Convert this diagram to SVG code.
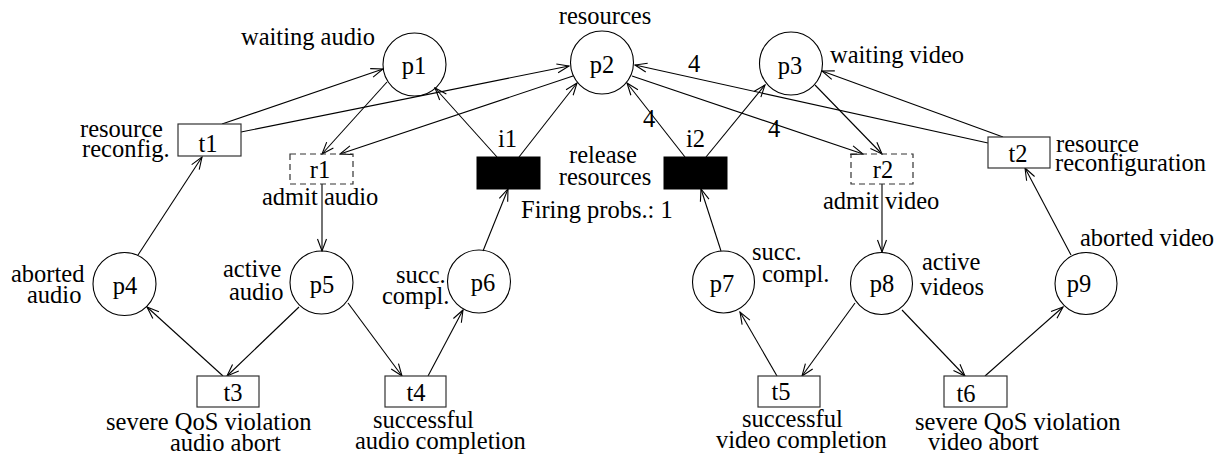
<svg xmlns="http://www.w3.org/2000/svg" width="1218" height="455" viewBox="0 0 1218 455">
<style>
text{font-family:"Liberation Serif","Times New Roman",serif;font-size:24.5px;fill:#000}
.m{text-anchor:middle}
.pl{fill:none;stroke:#000;stroke-width:1.1}
.tr{fill:#fff;stroke:#333;stroke-width:1.2}
.im{fill:#000;stroke:#000}
.ds{fill:none;stroke:#333;stroke-width:1.2;stroke-dasharray:6 4}
.e{stroke:#000;stroke-width:1.1;fill:none;marker-end:url(#a)}
</style>
<defs>
<marker id="a" markerUnits="userSpaceOnUse" markerWidth="14" markerHeight="12" viewBox="-1 -1 14 12" refX="12" refY="4.5" orient="auto">
<path d="M0,0 L12,4.5 L0,9" fill="none" stroke="#000" stroke-width="1.1"/>
</marker>
</defs>
<g id="connectors">
<line class="e" x1="222" y1="124" x2="383" y2="69"/>
<line class="e" x1="241" y1="132" x2="569" y2="66"/>
<line class="e" x1="387" y1="82" x2="322" y2="154"/>
<line class="e" x1="573" y1="76" x2="340" y2="154"/>
<line class="e" x1="497" y1="157" x2="435" y2="88"/>
<line class="e" x1="519" y1="157" x2="577" y2="83"/>
<line class="e" x1="685" y1="157" x2="627" y2="83"/>
<line class="e" x1="706" y1="157" x2="765" y2="85"/>
<line class="e" x1="632" y1="76" x2="863" y2="154"/>
<line class="e" x1="988" y1="143" x2="635" y2="65"/>
<line class="e" x1="1003" y1="137" x2="822" y2="71"/>
<line class="e" x1="815" y1="85" x2="882" y2="154"/>
<line class="e" x1="322" y1="184" x2="322" y2="251"/>
<line class="e" x1="882" y1="184" x2="882" y2="252"/>
<line class="e" x1="138" y1="255" x2="202" y2="157"/>
<line class="e" x1="223" y1="376" x2="147" y2="307"/>
<line class="e" x1="299" y1="307" x2="227" y2="376"/>
<line class="e" x1="348" y1="303" x2="402" y2="376"/>
<line class="e" x1="428" y1="376" x2="463" y2="310"/>
<line class="e" x1="483" y1="251" x2="508" y2="189"/>
<line class="e" x1="721" y1="251" x2="701" y2="189"/>
<line class="e" x1="777" y1="376" x2="740" y2="312"/>
<line class="e" x1="855" y1="303" x2="802" y2="376"/>
<line class="e" x1="902" y1="310" x2="965" y2="376"/>
<line class="e" x1="985" y1="376" x2="1063" y2="307"/>
<line class="e" x1="1071" y1="255" x2="1025" y2="168"/>
<text class="m" x="694" y="72">4</text>
<text class="m" x="649" y="127">4</text>
<text class="m" x="774" y="137">4</text>
</g>
<g id="p1"><circle class="pl" cx="414.5" cy="64.5" r="31.5"/><text class="m" x="414" y="74">p1</text><text x="241" y="45">waiting audio</text></g>
<g id="p2"><circle class="pl" cx="602" cy="62.5" r="31.5"/><text class="m" x="602" y="73">p2</text><text class="m" x="605" y="24">resources</text></g>
<g id="p3"><circle class="pl" cx="791" cy="63.5" r="31.5"/><text class="m" x="790" y="74">p3</text><text x="830" y="63">waiting video</text></g>
<g id="p4"><circle class="pl" cx="124.5" cy="284" r="31.5"/><text class="m" x="125" y="294">p4</text><text x="11" y="282">aborted</text><text x="27" y="303">audio</text></g>
<g id="p5"><circle class="pl" cx="321.5" cy="282.5" r="31.5"/><text class="m" x="322" y="293">p5</text><text x="223" y="277">active</text><text x="229" y="300">audio</text></g>
<g id="p6"><circle class="pl" cx="479" cy="281.5" r="31.5"/><text class="m" x="483" y="291">p6</text><text x="396" y="283">succ.</text><text x="382" y="304">compl.</text></g>
<g id="p7"><circle class="pl" cx="723.5" cy="282" r="31"/><text class="m" x="722" y="292">p7</text><text x="752" y="260">succ.</text><text x="762" y="282">compl.</text></g>
<g id="p8"><circle class="pl" cx="881.5" cy="283.5" r="31"/><text class="m" x="882" y="292">p8</text><text x="922" y="270">active</text><text x="920" y="295">videos</text></g>
<g id="p9"><circle class="pl" cx="1086" cy="283.5" r="31"/><text class="m" x="1079" y="292">p9</text><text x="1080" y="246">aborted video</text></g>
<g id="t1"><rect class="tr" x="178" y="124" width="63" height="32"/><text class="m" x="208" y="152">t1</text><text x="80" y="137">resource</text><text x="82" y="157">reconfig.</text></g>
<g id="t2"><rect class="tr" x="988" y="137" width="62" height="31"/><text class="m" x="1018" y="162">t2</text><text x="1056" y="152">resource</text><text x="1055" y="171">reconfiguration</text></g>
<g id="r1"><rect class="ds" x="290" y="154" width="63" height="30"/><text class="m" x="320" y="178">r1</text><text x="262" y="205">admit audio</text></g>
<g id="r2"><rect class="ds" x="851" y="154" width="62" height="30"/><text class="m" x="883" y="178">r2</text><text x="823" y="209">admit video</text></g>
<g id="i1"><rect class="im" x="477" y="157" width="63" height="32"/><text x="498" y="147">i1</text></g>
<g id="i2"><rect class="im" x="664" y="157" width="63" height="32"/><text x="686" y="147">i2</text></g>
<g id="release-label"><text class="m" x="603" y="163">release</text><text class="m" x="605" y="185">resources</text><text x="521" y="218">Firing probs.: 1</text></g>
<g id="t3"><rect class="tr" x="197" y="376" width="62" height="31"/><text class="m" x="233" y="401">t3</text><text x="106" y="430">severe QoS violation</text><text x="170" y="451">audio abort</text></g>
<g id="t4"><rect class="tr" x="385" y="376" width="61" height="31"/><text class="m" x="416" y="401">t4</text><text x="373" y="428">successful</text><text x="355" y="449">audio completion</text></g>
<g id="t5"><rect class="tr" x="758" y="376" width="62" height="31"/><text class="m" x="781" y="400">t5</text><text x="742" y="427">successful</text><text x="716" y="448">video completion</text></g>
<g id="t6"><rect class="tr" x="944" y="376" width="63" height="31"/><text class="m" x="966" y="402">t6</text><text x="915" y="430">severe QoS violation</text><text x="928" y="450">video abort</text></g>
</svg>
